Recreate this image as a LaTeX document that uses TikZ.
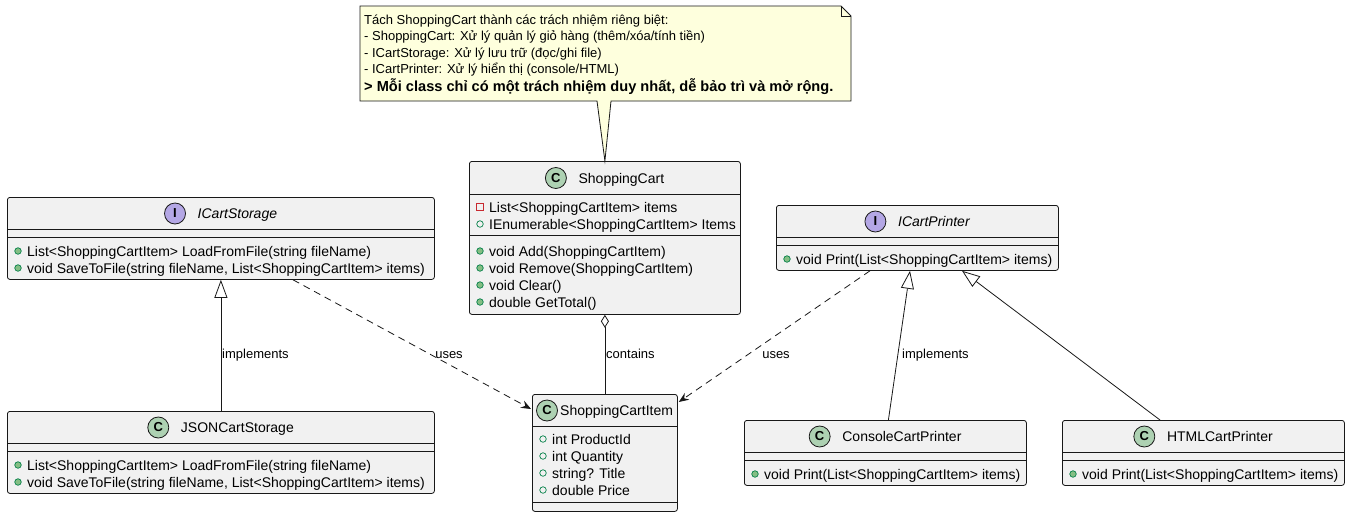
\documentclass[tikz,border=0pt]{standalone}
\usepackage{fontspec}
\setmainfont{Liberation Sans}
\usetikzlibrary{arrows.meta,calc}
\definecolor{umlborder}{HTML}{181818}
\definecolor{classfill}{HTML}{F1F1F1}
\definecolor{cicongreen}{HTML}{ADD1B2}
\definecolor{iiconpurple}{HTML}{B4A7E5}
\definecolor{notefill}{HTML}{FEFFDD}
\definecolor{pubgreen}{HTML}{038048}
\definecolor{pubfill}{HTML}{84BE84}
\definecolor{privred}{HTML}{C82930}
\newcommand\umlmem[4]{%
  \node[#1] at ($(#2.north west)+(11,#3)$) {};
  \node[memtext] at ($(#2.north west)+(20,#3)$) {#4};}
\newcommand\umlsep[2]{%
  \draw[sepline] ($(#1.north west)+(0,#2)$) -- ($(#1.north east)+(0,#2)$);}
\begin{document}
\begin{tikzpicture}[x=1pt,y=-1pt,
  classbox/.style={draw=umlborder,fill=classfill,rounded corners=2.5pt,line width=0.8pt,inner sep=0pt,anchor=north west},
  sepline/.style={draw=umlborder,line width=0.8pt},
  cname/.style={inner sep=0pt,font=\fontsize{14}{16}\selectfont,text height=10pt,text depth=0pt},
  iname/.style={cname,font=\fontsize{14}{16}\selectfont\itshape},
  cicon/.style={circle,draw=umlborder,fill=cicongreen,minimum size=21pt,inner sep=0pt,line width=0.8pt,font=\fontsize{13}{13}\selectfont\bfseries},
  iicon/.style={cicon,fill=iiconpurple},
  memtext/.style={anchor=west,inner sep=0pt,font=\fontsize{14}{16}\selectfont,text height=10pt,text depth=0pt},
  pubm/.style={circle,draw=pubgreen,fill=pubfill,minimum size=6.5pt,inner sep=0pt,line width=0.7pt},
  pubf/.style={circle,draw=pubgreen,fill=none,minimum size=6.5pt,inner sep=0pt,line width=0.7pt},
  privf/.style={rectangle,draw=privred,fill=none,minimum size=7pt,inner sep=0pt,line width=0.7pt},
  notetext/.style={anchor=west,inner sep=0pt,font=\fontsize{13}{15}\selectfont,text height=9.3pt,text depth=0pt},
  notebold/.style={notetext,font=\fontsize{14.6}{16}\selectfont\bfseries,text height=10.4pt},
  elabel/.style={inner sep=0pt,font=\fontsize{13}{15}\selectfont,text height=9.3pt,text depth=0pt},
  conn/.style={draw=umlborder,line width=0.8pt},
  implline/.style={conn,-{Triangle[length=18pt,width=13pt,fill=white,line width=0.8pt]}},
  usesline/.style={conn,dash pattern=on 7pt off 5pt,-{Stealth[length=10pt,width=8pt,inset=3.5pt]}},
  aggline/.style={conn,{Diamond[length=13pt,width=8pt,fill=white,line width=0.8pt]}-}
]
\useasboundingbox (0,0) rectangle (1350,517);
\fill[white] (0,0) rectangle (1350,517);

% ---------- ShoppingCart ----------
\node[classbox,minimum width=271pt,minimum height=153pt] (sc) at (469,161) {};
\umlsep{sc}{33}\umlsep{sc}{74}
\node[cname] (scname) at ($(sc.north)+(16.5,17)$) {ShoppingCart};
\node[cicon] (scicon) at ($(scname.west)+(-22.5,0)$) {C};
\umlmem{privf}{sc}{46}{List<ShoppingCartItem> items}
\umlmem{pubf}{sc}{63}{IEnumerable<ShoppingCartItem> Items}
\umlmem{pubm}{sc}{90}{void Add(ShoppingCartItem)}
\umlmem{pubm}{sc}{107}{void Remove(ShoppingCartItem)}
\umlmem{pubm}{sc}{124}{void Clear()}
\umlmem{pubm}{sc}{141}{double GetTotal()}

% ---------- ICartStorage ----------
\node[classbox,minimum width=427pt,minimum height=82pt] (ics) at (7,197) {};
\umlsep{ics}{32.5}\umlsep{ics}{40}
\node[iname] (icsname) at ($(ics.north)+(16.5,16.5)$) {ICartStorage};
\node[iicon] (icsicon) at ($(icsname.west)+(-22.5,0)$) {I};
\umlmem{pubm}{ics}{54}{List<ShoppingCartItem> LoadFromFile(string fileName)}
\umlmem{pubm}{ics}{71}{void SaveToFile(string fileName, List<ShoppingCartItem> items)}

% ---------- ICartPrinter ----------
\node[classbox,minimum width=282pt,minimum height=65pt] (icp) at (776,205) {};
\umlsep{icp}{32.5}\umlsep{icp}{40}
\node[iname] (icpname) at ($(icp.north)+(16.5,16.5)$) {ICartPrinter};
\node[iicon] (icpicon) at ($(icpname.west)+(-22.5,0)$) {I};
\umlmem{pubm}{icp}{54}{void Print(List<ShoppingCartItem> items)}

% ---------- ShoppingCartItem ----------
\node[classbox,minimum width=145pt,minimum height=117pt] (sci) at (532,394) {};
\umlsep{sci}{32.5}\umlsep{sci}{108.5}
\node[cname,anchor=west] (sciname) at ($(sci.north west)+(28,16.5)$) {ShoppingCartItem};
\node[cicon] (sciicon) at ($(sciname.west)+(-13,0)$) {C};
\umlmem{pubf}{sci}{45}{int ProductId}
\umlmem{pubf}{sci}{62}{int Quantity}
\umlmem{pubf}{sci}{79}{string? Title}
\umlmem{pubf}{sci}{96}{double Price}

% ---------- JSONCartStorage ----------
\node[classbox,minimum width=427pt,minimum height=82pt] (json) at (7,411) {};
\umlsep{json}{32.5}\umlsep{json}{40}
\node[cname] (jsonname) at ($(json.north)+(16.5,16.5)$) {JSONCartStorage};
\node[cicon] (jsonicon) at ($(jsonname.west)+(-22.5,0)$) {C};
\umlmem{pubm}{json}{54}{List<ShoppingCartItem> LoadFromFile(string fileName)}
\umlmem{pubm}{json}{71}{void SaveToFile(string fileName, List<ShoppingCartItem> items)}

% ---------- ConsoleCartPrinter ----------
\node[classbox,minimum width=282pt,minimum height=65pt] (con) at (744,420) {};
\umlsep{con}{32.5}\umlsep{con}{40}
\node[cname] (conname) at ($(con.north)+(16.5,16.5)$) {ConsoleCartPrinter};
\node[cicon] (conicon) at ($(conname.west)+(-22.5,0)$) {C};
\umlmem{pubm}{con}{54}{void Print(List<ShoppingCartItem> items)}

% ---------- HTMLCartPrinter ----------
\node[classbox,minimum width=282pt,minimum height=65pt] (html) at (1062,420) {};
\umlsep{html}{32.5}\umlsep{html}{40}
\node[cname] (htmlname) at ($(html.north)+(16.5,16.5)$) {HTMLCartPrinter};
\node[cicon] (htmlicon) at ($(htmlname.west)+(-22.5,0)$) {C};
\umlmem{pubm}{html}{54}{void Print(List<ShoppingCartItem> items)}

% ---------- Note ----------
\coordinate (ntl) at (360,6);
\coordinate (nbr) at (851,101);
\filldraw[draw=umlborder,fill=notefill,line width=0.8pt]
  (ntl) -- (841,6) -- (851,16) -- (nbr) -- (611,101) -- (sc.north) -- (597,101) -- (360,101) -- cycle;
\draw[draw=umlborder,line width=0.8pt] (841,6) -- (841,16) -- (851,16);
\node[notetext] (n1) at (364,20) {Tách ShoppingCart thành các trách nhiệm riêng biệt:};
\node[notetext] (n2) at (364,36) {- ShoppingCart: Xử lý quản lý giỏ hàng (thêm/xóa/tính tiền)};
\node[notetext] (n3) at (364,52.5) {- ICartStorage: Xử lý lưu trữ (đọc/ghi file)};
\node[notetext] (n4) at (364,69) {- ICartPrinter: Xử lý hiển thị (console/HTML)};
\node[notebold] (n5) at (364,86.5) {> Mỗi class chỉ có một trách nhiệm duy nhất, dễ bảo trì và mở rộng.};

% ---------- Connectors ----------
\draw[implline] (json.north) -- (ics.south);
\draw[usesline] ($(ics.south west)+(286,0)$) -- ($(sci.north west)+(-1,15)$);
\draw[aggline] (sc.south) -- (sci.north);
\draw[usesline] ($(icp.south west)+(94,0)$) -- ($(sci.north east)+(1,8)$);
\draw[implline] ($(con.north)+(3,0)$) -- ($(icp.south west)+(134,0)$);
\draw[implline] ($(html.north west)+(98,0)$) -- ($(icp.south west)+(186,0)$);

% ---------- Labels ----------
\node[elabel,anchor=west] (l1) at (222,354) {implements};
\node[elabel] (l2) at (449,354) {uses};
\node[elabel,anchor=west] (l3) at (606,354) {contains};
\node[elabel] (l4) at (776,354) {uses};
\node[elabel,anchor=west] (l5) at (902,354) {implements};
\end{tikzpicture}
\end{document}
